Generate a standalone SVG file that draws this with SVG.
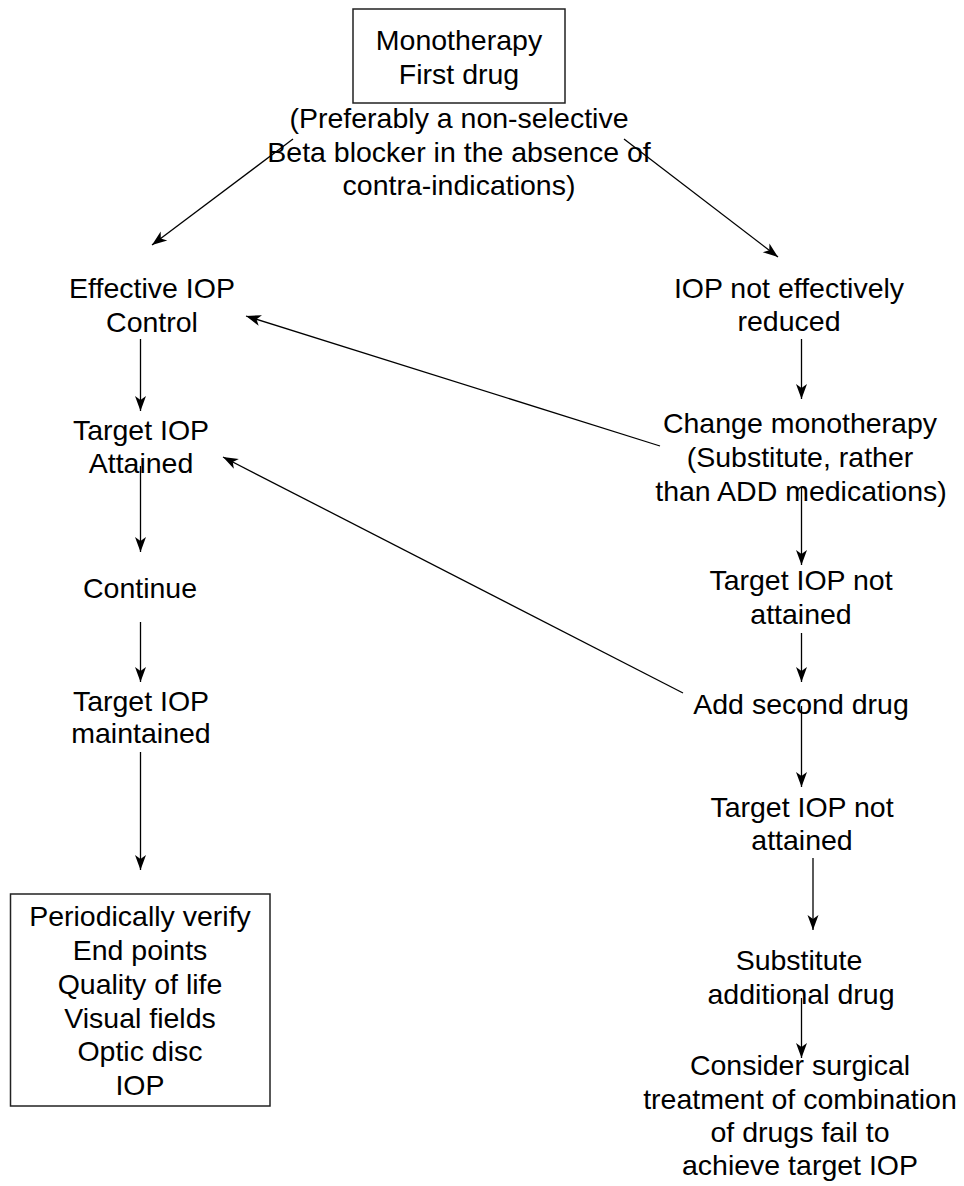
<svg xmlns="http://www.w3.org/2000/svg" width="964" height="1186" viewBox="0 0 964 1186">
<style>
text{font-family:"Liberation Sans",Arial,sans-serif;font-size:28.5px;fill:#000;text-anchor:middle}
.box{fill:none;stroke:#222;stroke-width:1.5}
.c line{stroke:#000;stroke-width:1.3;marker-end:url(#ah)}
</style>
<defs>
<marker id="ah" markerUnits="userSpaceOnUse" markerWidth="20" markerHeight="14" refX="16" refY="6" orient="auto" viewBox="0 0 20 14">
<path d="M16,6 L1,0.5 L5,6 L1,11.5 Z" fill="#000"/>
</marker>
</defs>
<rect width="964" height="1186" fill="#fff"/>
<g id="n-mono">
<rect class="box" x="353" y="9" width="212" height="94"/>
<text x="459" y="50">Monotherapy</text>
<text x="459" y="84">First drug</text>
</g>
<g id="n-pref">
<text x="459" y="128">(Preferably a non-selective</text>
<text x="459" y="162">Beta blocker in the absence of</text>
<text x="459" y="195">contra-indications)</text>
</g>
<g id="n-effective">
<text x="152" y="298">Effective IOP</text>
<text x="152" y="332">Control</text>
</g>
<g id="n-attained">
<text x="141" y="440">Target IOP</text>
<text x="141" y="473">Attained</text>
</g>
<g id="n-continue">
<text x="140" y="598">Continue</text>
</g>
<g id="n-maintained">
<text x="141" y="711">Target IOP</text>
<text x="141" y="743">maintained</text>
</g>
<g id="n-verify">
<rect class="box" x="10.5" y="894" width="259.5" height="212"/>
<text x="140" y="926">Periodically verify</text>
<text x="140" y="960">End points</text>
<text x="140" y="994">Quality of life</text>
<text x="140" y="1028">Visual fields</text>
<text x="140" y="1061">Optic disc</text>
<text x="140" y="1095">IOP</text>
</g>
<g id="n-notreduced">
<text x="789" y="298">IOP not effectively</text>
<text x="789" y="331">reduced</text>
</g>
<g id="n-change">
<text x="800" y="433">Change monotherapy</text>
<text x="800" y="467">(Substitute, rather</text>
<text x="801" y="501">than ADD medications)</text>
</g>
<g id="n-notattained1">
<text x="801" y="590">Target IOP not</text>
<text x="801" y="624">attained</text>
</g>
<g id="n-addsecond">
<text x="801" y="714">Add second drug</text>
</g>
<g id="n-notattained2">
<text x="802" y="817">Target IOP not</text>
<text x="802" y="850">attained</text>
</g>
<g id="n-substitute">
<text x="799" y="970">Substitute</text>
<text x="801" y="1004">additional drug</text>
</g>
<g id="n-surgical">
<text x="800" y="1075">Consider surgical</text>
<text x="800" y="1109">treatment of combination</text>
<text x="800" y="1142">of drugs fail to</text>
<text x="800" y="1175">achieve target IOP</text>
</g>
<g id="connectors" class="c">
<line x1="293" y1="139" x2="152" y2="245"/>
<line x1="624" y1="139" x2="778" y2="257"/>
<line x1="140.5" y1="339" x2="140.5" y2="411"/>
<line x1="140.5" y1="466" x2="140.5" y2="552"/>
<line x1="140.5" y1="622" x2="140.5" y2="682"/>
<line x1="140.5" y1="752" x2="140.5" y2="870"/>
<line x1="801.5" y1="339" x2="801.5" y2="399"/>
<line x1="801.5" y1="488" x2="801.5" y2="565"/>
<line x1="801.5" y1="633" x2="801.5" y2="682"/>
<line x1="801.5" y1="706" x2="801.5" y2="787"/>
<line x1="813" y1="858" x2="813" y2="930"/>
<line x1="801.5" y1="998" x2="801.5" y2="1058"/>
<line x1="660" y1="446" x2="246" y2="316"/>
<line x1="683" y1="693" x2="223" y2="457"/>
</g>
</svg>
